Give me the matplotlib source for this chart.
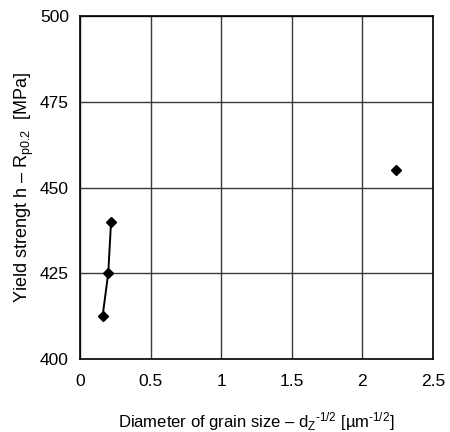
import matplotlib
matplotlib.use("Agg")
import matplotlib.pyplot as plt

plt.rcParams['font.family'] = ['Liberation Sans', 'DejaVu Sans']
plt.rcParams['mathtext.fontset'] = 'custom'
plt.rcParams['mathtext.rm'] = 'Liberation Sans'
plt.rcParams['mathtext.it'] = 'Liberation Sans'
plt.rcParams['mathtext.default'] = 'regular'

line_x = [0.16, 0.20, 0.22]
line_y = [412.5, 425.0, 440.0]
point_x = [2.24]
point_y = [455.0]
xticks = [0, 0.5, 1, 1.5, 2, 2.5]
xticklabels = ['0', '0.5', '1', '1.5', '2', '2.5']
yticks = [400, 425, 450, 475, 500]

fig = plt.figure(figsize=(4.5, 4.32), dpi=100)
ax = fig.add_axes([80/450, 1 - 359/432, (433-80)/450, (359-16)/432])

ax.plot(line_x, line_y, color='black', lw=1.4, marker='D', ms=5, zorder=3)
ax.plot(point_x, point_y, color='black', lw=0, marker='D', ms=5, zorder=3)

ax.set_xlim(0, 2.5)
ax.set_ylim(400, 500)
ax.set_xticks(xticks)
ax.set_xticklabels(xticklabels)
ax.set_yticks(yticks)
ax.grid(True, color='#3a3a3a', lw=1.0)
ax.tick_params(length=0, labelsize=12.5)
ax.tick_params(axis='x', pad=11)
ax.tick_params(axis='y', pad=8)
for s in ax.spines.values():
    s.set_color('black')
    s.set_linewidth(1.2)

ax.set_xlabel(r'Diameter of grain size – d$_{Z}$$^{‐1/2}$ [µm$^{‐1/2}$]', fontsize=12, labelpad=15)
ax.set_ylabel(r'Yield strengt h – R$_{p0.2}$  [MPa]', fontsize=13, labelpad=3)

fig.savefig('out.png', dpi=100)
